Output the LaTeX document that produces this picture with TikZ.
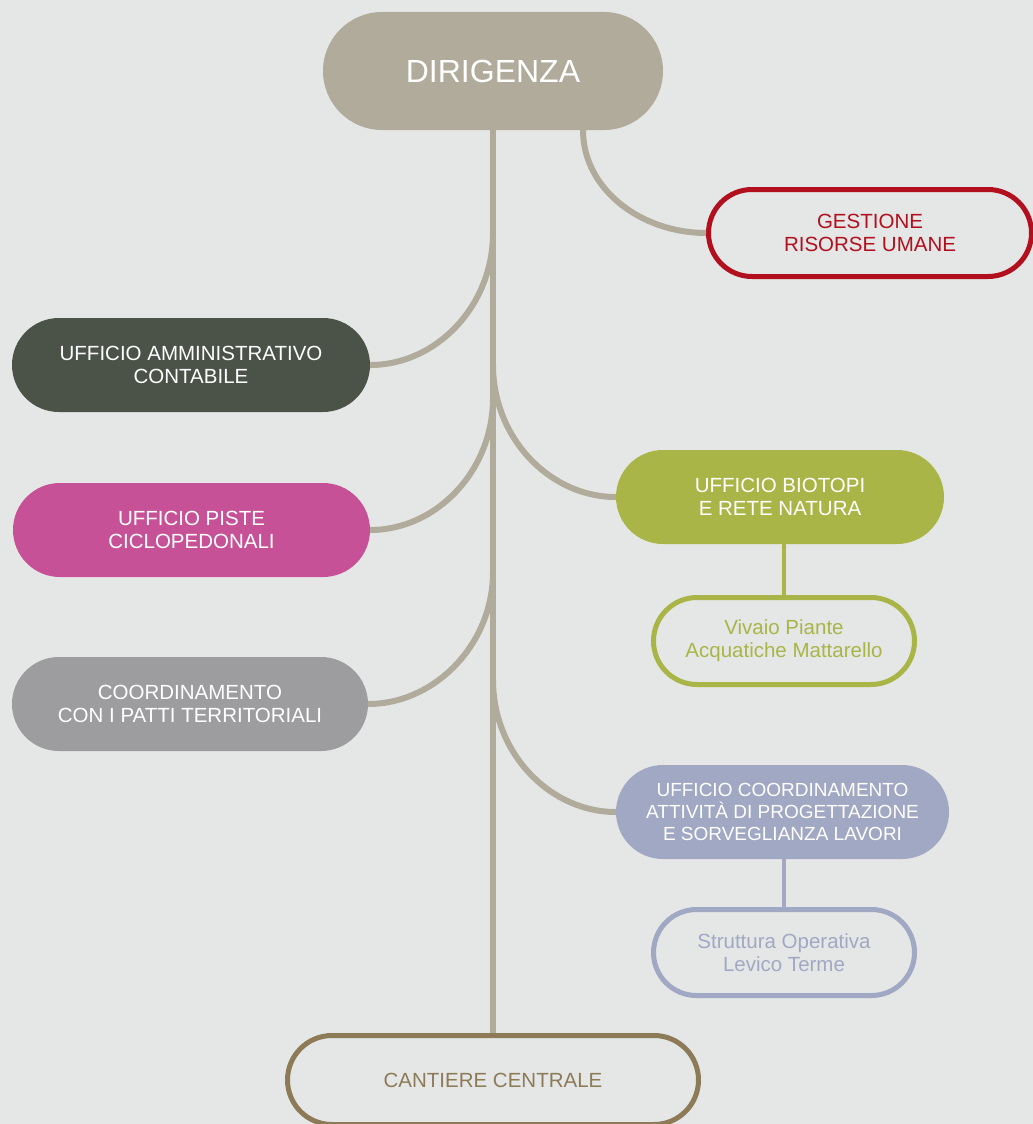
\documentclass[tikz,border=0pt]{standalone}
\usepackage{fontspec}
\setmainfont{Liberation Sans}
\usetikzlibrary{shapes.misc}

\definecolor{bg}{HTML}{E5E7E6}
\definecolor{stem}{HTML}{B1AB9B}
\definecolor{redc}{HTML}{B2101F}
\definecolor{darkc}{HTML}{4B5349}
\definecolor{pinkc}{HTML}{C75196}
\definecolor{greyc}{HTML}{9D9D9F}
\definecolor{greenc}{HTML}{A9B546}
\definecolor{bluec}{HTML}{A1A8C3}
\definecolor{brownc}{HTML}{8D7B58}

\begin{document}
\begin{tikzpicture}[x=1pt,y=-1pt,
    filled/.style={rounded rectangle,fill=#1,text=white,align=center,inner sep=0pt,
        minimum height=94pt,font=\fontsize{20.5}{23}\selectfont},
    outlined/.style={rounded rectangle,draw=#1,line width=5pt,fill=bg,text=#1,align=center,
        inner sep=0pt,minimum height=87pt,font=\fontsize{20.5}{23}\selectfont},
    branch/.style={draw=stem,line width=6pt}]
    \useasboundingbox (0,0) rectangle (1033,1124);
    \fill[bg] (0,0) rectangle (1033,1124);

    % boxes
    \node[filled=stem,minimum width=340pt,minimum height=118pt,font=\fontsize{32}{36}\selectfont] (dir) at (493,71) {DIRIGENZA};
    \node[outlined=redc,minimum width=323pt] (gest) at (870,233) {GESTIONE\\RISORSE UMANE};
    \node[filled=darkc,minimum width=358pt] (amm) at (191,365) {UFFICIO AMMINISTRATIVO\\CONTABILE};
    \node[filled=pinkc,minimum width=357pt] (piste) at (191.5,530) {UFFICIO PISTE\\CICLOPEDONALI};
    \node[filled=greyc,minimum width=356pt] (patti) at (190,704) {COORDINAMENTO\\CON I PATTI TERRITORIALI};
    \node[filled=greenc,minimum width=328pt] (bio) at (780,497) {UFFICIO BIOTOPI\\E RETE NATURA};
    \node[outlined=greenc,minimum width=261pt] (vivaio) at (784,641) {Vivaio Piante\\Acquatiche Mattarello};
    \node[filled=bluec,minimum width=333pt,font=\fontsize{19}{22}\selectfont] (coord) at (782.5,812) {UFFICIO COORDINAMENTO\\ATTIVITÀ DI PROGETTAZIONE\\E SORVEGLIANZA LAVORI};
    \node[outlined=bluec,minimum width=261pt,minimum height=86pt] (strutt) at (784,952.5) {Struttura Operativa\\Levico Terme};
    \node[outlined=brownc,minimum width=411pt,minimum height=89pt] (cant) at (493,1080) {CANTIERE CENTRALE};

    % trunk and branches
    \coordinate (g0) at (583,130);
    \coordinate (b1) at (493,233);
    \coordinate (b2) at (493,398);
    \coordinate (b3) at (493,365);
    \coordinate (b4) at (493,572);
    \coordinate (b5) at (493,680);
    \draw[branch] (dir.south) -- (cant.north);
    \draw[branch] (g0) .. controls +(0,60) and +(-64,0) .. (gest.west);
    \draw[branch] (b1) .. controls +(0,73) and +(66,0) .. (amm.east);
    \draw[branch] (b2) .. controls +(0,73) and +(66,0) .. (piste.east);
    \draw[branch] (b3) .. controls +(0,73) and +(-66,0) .. (bio.west);
    \draw[branch] (b4) .. controls +(0,73) and +(66,0) .. (patti.east);
    \draw[branch] (b5) .. controls +(0,73) and +(-66,0) .. (coord.west);
    \draw[greenc,line width=4pt] (vivaio.north) -- (vivaio.north |- bio.south);
    \draw[bluec,line width=4pt] (strutt.north) -- (strutt.north |- coord.south);
\end{tikzpicture}
\end{document}
